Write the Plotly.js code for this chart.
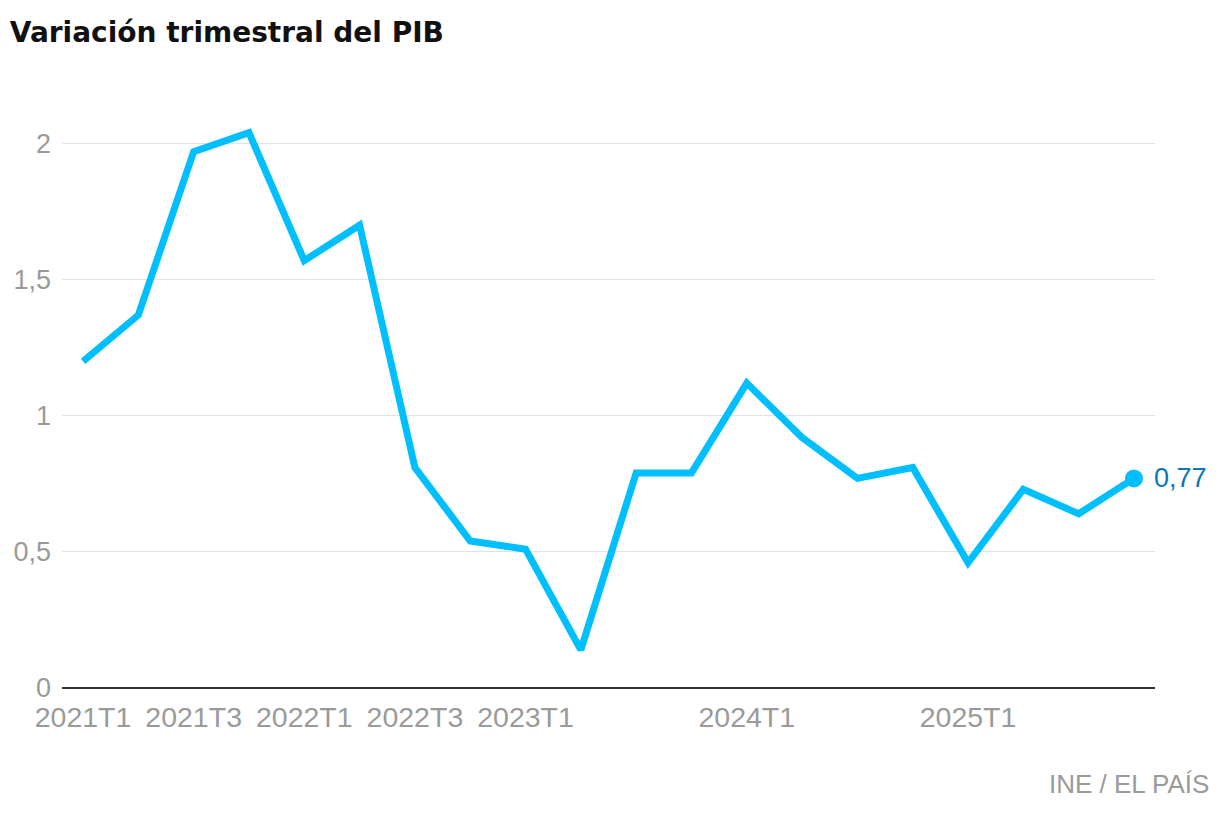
<!DOCTYPE html>
<html><head><meta charset="utf-8">
<script src="https://cdn.plot.ly/plotly-3.0.1.min.js"></script>
<style>html,body{margin:0;padding:0;background:#fff}#c{width:1220px;height:814px}</style>
</head><body><div id="c"></div>
<script>
const quarters = ["2021T1","2021T2","2021T3","2021T4","2022T1","2022T2","2022T3","2022T4","2023T1","2023T2","2023T3","2023T4","2024T1","2024T2","2024T3","2024T4","2025T1","2025T2","2025T3","2025T4"];
const pib = [1.20,1.37,1.97,2.04,1.57,1.70,0.81,0.54,0.51,0.14,0.79,0.79,1.12,0.92,0.77,0.81,0.46,0.73,0.64,0.77];
const xTicks = ["2021T1","2021T3","2022T1","2022T3","2023T1","2024T1","2025T1"];
const yTicks = [0,0.5,1,1.5,2];
const yLabels = ["0","0,5","1","1,5","2"];

const font = "'Liberation Sans', Arial, sans-serif";
const lastIdx = quarters.length - 1;

Plotly.newPlot('c', [
  {x: quarters, y: pib, type:'scatter', mode:'lines', line:{color:'#00bfff', width:7}, hoverinfo:'skip'},
  {x: [quarters[lastIdx]], y: [pib[lastIdx]], type:'scatter', mode:'markers', marker:{color:'#00bfff', size:18}, hoverinfo:'skip'}
], {
  width:1220, height:814,
  margin:{l:62, r:65, t:100, b:126},
  paper_bgcolor:'#fff', plot_bgcolor:'#fff',
  showlegend:false,
  separators:',.',
  title:{text:'<b>Variación trimestral del PIB</b>', x:0.008, xanchor:'left', y:0.96, yanchor:'middle',
         font:{family:"'DejaVu Sans', sans-serif", size:28, color:'#111'}},
  xaxis:{type:'category', range:[-0.38, 19.38], tickvals:xTicks, ticktext:xTicks,
         showgrid:false, zeroline:false, showline:false, ticks:'', ticklabelstandoff:9,
         tickfont:{family:font, size:28.5, color:'#9a9a9a'}},
  yaxis:{range:[0, 2.16], tickvals:yTicks, ticktext:yLabels, showgrid:true, gridcolor:'#e2e2e2', gridwidth:1,
         zeroline:true, zerolinecolor:'#333', zerolinewidth:2, showline:false, ticks:'', ticklen:0, ticklabelstandoff:10,
         tickfont:{family:font, size:27, color:'#9a9a9a'}},
  annotations:[
    {x: quarters[lastIdx], y: pib[lastIdx], xref:'x', yref:'y', text:'0,77', showarrow:false,
     xanchor:'left', yanchor:'middle', xshift:18, font:{family:font, size:27, color:'#0a79b5'}},
    {x:1, y:0, xref:'paper', yref:'paper', xanchor:'right', yanchor:'middle', xshift:56, yshift:-96,
     text:'INE / EL PAÍS', showarrow:false, font:{family:font, size:26, color:'#9a9a9a'}}
  ]
}, {displayModeBar:false, staticPlot:true});
</script></body></html>
